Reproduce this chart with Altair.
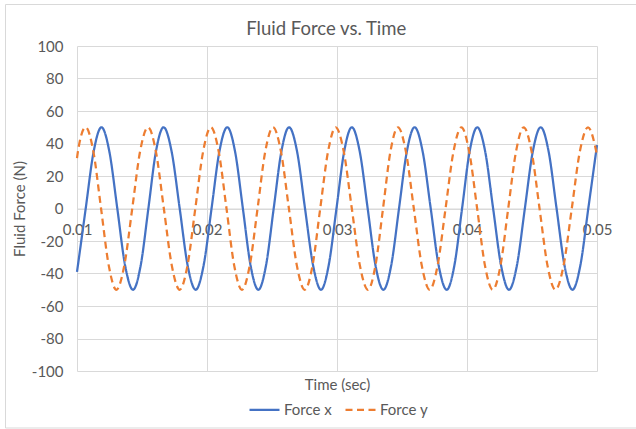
import altair as alt
import pandas as pd

# Force x readings (time in s, force in N)
tx = [0.0100, 0.01007, 0.01067, 0.01128, 0.01188,
      0.01249, 0.01310, 0.01370, 0.01431,
      0.01490, 0.01549, 0.01607, 0.01666,
      0.01728, 0.01790, 0.01851, 0.01913,
      0.01974, 0.02035, 0.02095, 0.02156,
      0.02216, 0.02276, 0.02335, 0.02395,
      0.02454, 0.02513, 0.02572, 0.02631,
      0.02693, 0.02754, 0.02816, 0.02877,
      0.02936, 0.02996, 0.03055, 0.03114,
      0.03175, 0.03236, 0.03296, 0.03357,
      0.03417, 0.03477, 0.03537, 0.03597,
      0.03659, 0.03721, 0.03782, 0.03844,
      0.03903, 0.03962, 0.04020, 0.04079,
      0.04140, 0.04201, 0.04262, 0.04323,
      0.04384, 0.04445, 0.04506, 0.04567,
      0.04628, 0.04689, 0.04750, 0.04811,
      0.04872, 0.04933, 0.0500]
fx = [-39, -35, 0, 35, 50,
      35, 0, -35, -50,
      -35, 0, 35, 50,
      35, 0, -35, -50,
      -35, 0, 35, 50,
      35, 0, -35, -50,
      -35, 0, 35, 50,
      35, 0, -35, -50,
      -35, 0, 35, 50,
      35, 0, -35, -50,
      -35, 0, 35, 50,
      35, 0, -35, -50,
      -35, 0, 35, 50,
      35, 0, -35, -50,
      -35, 0, 35, 50,
      35, 0, -35, -50,
      -35, 0, 39]

# Force y readings
ty = [0.0100, 0.01007, 0.01067,
      0.01126, 0.01185, 0.01244, 0.01303,
      0.01364, 0.01425, 0.01485, 0.01546,
      0.01607, 0.01668, 0.01729, 0.01790,
      0.01850, 0.01910, 0.01970, 0.02030,
      0.02090, 0.02150, 0.02209, 0.02269,
      0.02329, 0.02389, 0.02448, 0.02508,
      0.02569, 0.02630, 0.02691, 0.02752,
      0.02812, 0.02871, 0.02931, 0.02990,
      0.03052, 0.03114, 0.03176, 0.03238,
      0.03296, 0.03354, 0.03411, 0.03469,
      0.03530, 0.03591, 0.03652, 0.03713,
      0.03774, 0.03835, 0.03896, 0.03957,
      0.04017, 0.04078, 0.04138, 0.04198,
      0.04258, 0.04317, 0.04377, 0.04436,
      0.04497, 0.04558, 0.04619, 0.04680,
      0.04743, 0.04806, 0.04868, 0.04931,
      0.0500]
fy = [31, 35, 50,
      35, 0, -35, -50,
      -35, 0, 35, 50,
      35, 0, -35, -50,
      -35, 0, 35, 50,
      35, 0, -35, -50,
      -35, 0, 35, 50,
      35, 0, -35, -50,
      -35, 0, 35, 50,
      35, 0, -35, -50,
      -35, 0, 35, 50,
      35, 0, -35, -50,
      -35, 0, 35, 50,
      35, 0, -35, -50,
      -35, 0, 35, 50,
      35, 0, -35, -50,
      -35, 0, 35, 50,
      33]

series_names = ["Force x", "Force y"]
x_ticks = [0.01, 0.02, 0.03, 0.04, 0.05]
y_ticks = [-100, -80, -60, -40, -20, 0, 20, 40, 60, 80, 100]

df = pd.concat([
    pd.DataFrame({"t": tx, "f": fx, "s": series_names[0], "o": range(len(tx))}),
    pd.DataFrame({"t": ty, "f": fy, "s": series_names[1], "o": range(len(ty))}),
])

FONT = "Lato"
GRAY = "#595959"
GRID = "#d9d9d9"

legend = alt.Legend(title=None, orient="none", direction="horizontal",
                    legendX=171, legendY=347,
                    symbolType="stroke", symbolSize=900, symbolStrokeWidth=2.25,
                    labelFont=FONT, labelFontSize=15, labelColor=GRAY,
                    columnPadding=9, labelOffset=3)

lines = alt.Chart(df).mark_line(strokeWidth=2.25, interpolate="monotone").encode(
    x=alt.X("t:Q", scale=alt.Scale(domain=[0.01, 0.05], nice=False),
            axis=alt.Axis(values=x_ticks, format=".2f", title="Time (sec)",
                          offset=-162.5, domainColor=GRID, ticks=False,
                          labelPadding=14, labelFontSize=15, labelColor=GRAY,
                          labelFont=FONT, titleFont=FONT, titleFontSize=15,
                          titleColor=GRAY, titleFontWeight="normal",
                          titleY=176, titleBaseline="middle",
                          grid=True, gridColor=GRID, labelFlush=False)),
    y=alt.Y("f:Q", scale=alt.Scale(domain=[-100, 100], nice=False),
            axis=alt.Axis(values=y_ticks, title="Fluid Force (N)",
                          labelExpr="'' + datum.value",
                          domain=False, ticks=False, labelPadding=14,
                          labelFontSize=15, labelColor=GRAY, labelFont=FONT,
                          titleFont=FONT, titleFontSize=15, titleColor=GRAY,
                          titleFontWeight="normal", titlePadding=4,
                          gridColor=GRID)),
    color=alt.Color("s:N", scale=alt.Scale(domain=series_names, range=["#4472C4", "#ED7D31"]),
                    legend=legend),
    strokeDash=alt.StrokeDash("s:N", scale=alt.Scale(domain=series_names, range=[[1, 0], [7, 4.5]]),
                              legend=legend),
    order="o:Q",
)

border = alt.Chart(pd.DataFrame({"a": [0]})).mark_rect(
    fillOpacity=0, stroke=GRID, strokeWidth=1
).encode(x=alt.value(-71.5), x2=alt.value(570), y=alt.value(-41.5), y2=alt.value(382))

chart = alt.layer(border, lines).properties(
    width=520, height=325,
    title=alt.TitleParams("Fluid Force vs. Time", font=FONT, fontSize=18.5,
                          color=GRAY, fontWeight="normal", offset=-34,
                          frame="bounds", anchor="middle"),
    autosize=alt.AutoSizeParams(type="none"),
    padding={"left": 77, "top": 46, "right": 39, "bottom": 58},
    background="white",
).configure_view(strokeWidth=0)

chart.save("out.html", embed_options={"renderer": "svg", "actions": False})
